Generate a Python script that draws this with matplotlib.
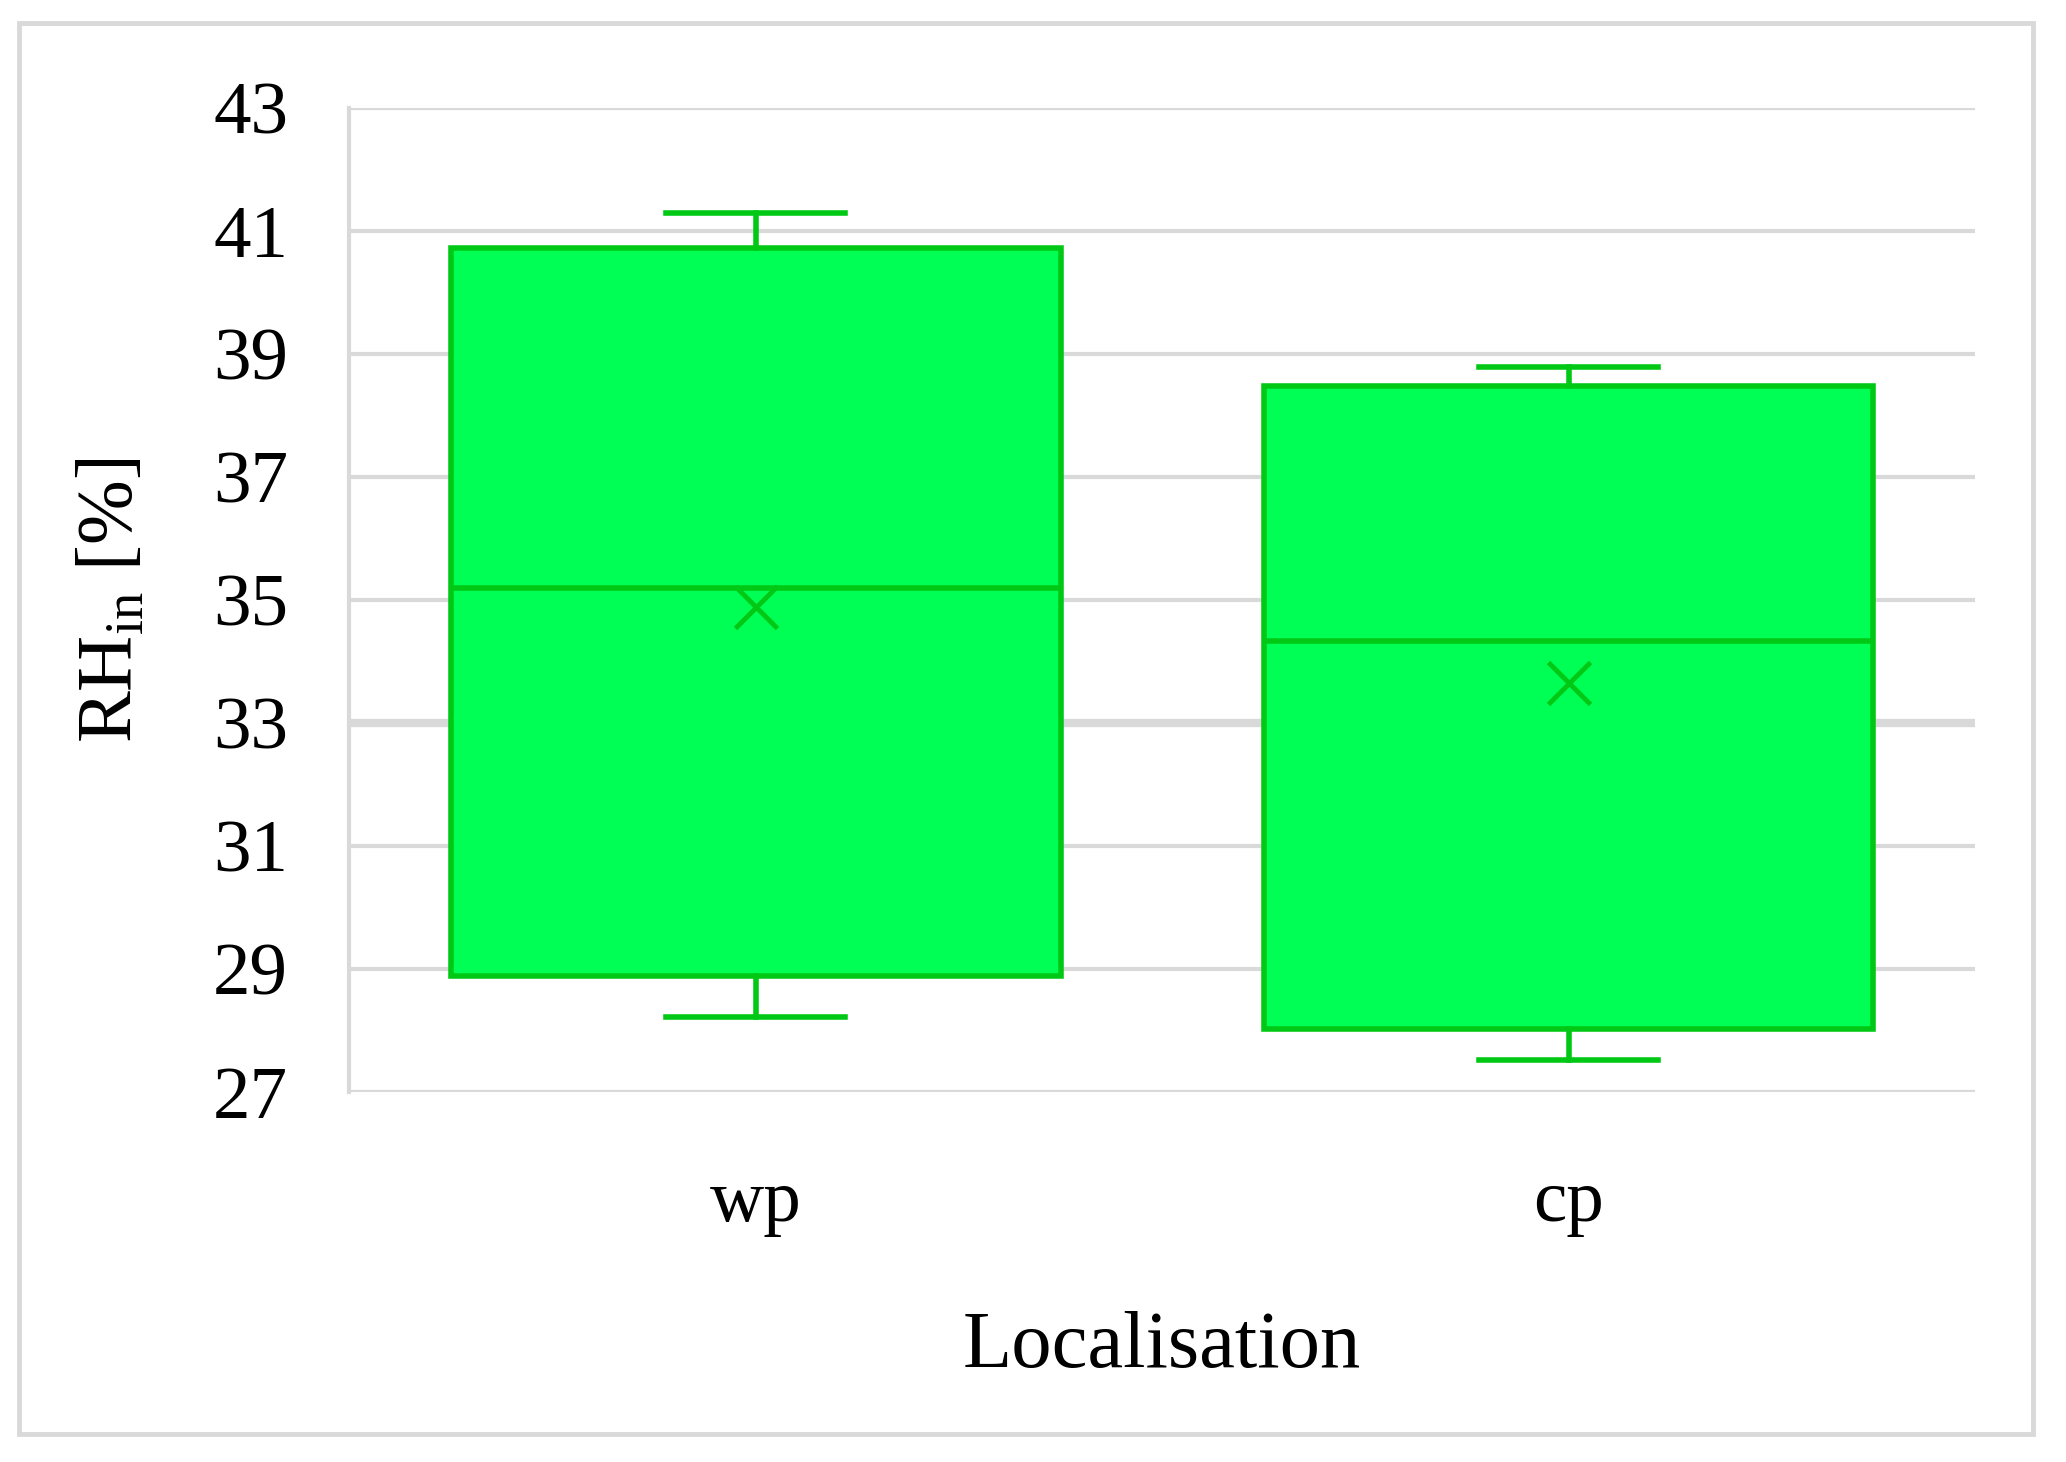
import numpy as np
import matplotlib.pyplot as plt
from matplotlib.patches import Rectangle

FONTSIZE = 54

plt.rcParams.update({
    "font.family": "serif",
    "font.serif": ["Liberation Serif", "DejaVu Serif"],
    "mathtext.fontset": "custom",
    "mathtext.rm": "Liberation Serif",
    "font.size": FONTSIZE,
    "xtick.labelsize": FONTSIZE,
    "ytick.labelsize": FONTSIZE})

# data (box statistics per location)
categories = ["wp", "cp"]
whisker_low = [28.22, 27.53]
q1 = [28.89, 28.03]
median = [35.19, 34.33]
mean = [34.89, 33.65]
q3 = [40.73, 38.49]
whisker_high = [41.30, 38.79]
yticks = [27, 29, 31, 33, 35, 37, 39, 41, 43]

FILL = "#00ff55"
EDGE = "#00c814"
GRID = "#d9d9d9"
LINEWIDTH = 4.0

fig = plt.figure(figsize=(20.66, 14.62), dpi=100)
ax = fig.add_axes([0.169, 0.253, 0.787, 0.673])

# gridlines (the one at 33 is drawn heavier in the original)
for yv in yticks:
    ax.axhline(yv, color=GRID, lw=6 if yv == 33 else 3, zorder=0)

stats = []
for i, name in enumerate(categories):
    stats.append(dict(label=name, whislo=whisker_low[i], q1=q1[i], med=median[i],
                      mean=mean[i], q3=q3[i], whishi=whisker_high[i], fliers=[]))

ax.bxp(stats, positions=[0, 1], widths=0.75, capwidths=0.22, patch_artist=True,
       showmeans=True, showfliers=False,
       boxprops=dict(facecolor=FILL, edgecolor=EDGE, linewidth=LINEWIDTH),
       medianprops=dict(color=EDGE, linewidth=LINEWIDTH),
       whiskerprops=dict(color=EDGE, linewidth=LINEWIDTH),
       capprops=dict(color=EDGE, linewidth=LINEWIDTH),
       meanprops=dict(marker="x", markeredgecolor=EDGE, markersize=30,
                      markeredgewidth=3.5))

ax.set_xlim(-0.5, 1.5)
ax.set_ylim(27, 43)
ax.set_yticks(yticks)
ax.set_xticks([0, 1])
ax.set_xticklabels(categories)
ax.tick_params(axis="both", length=0)
ax.tick_params(axis="y", pad=44)
ax.tick_params(axis="x", pad=56)
for lbl in ax.get_yticklabels():
    lbl.set_va("center_baseline")

for side in ["top", "right", "bottom"]:
    ax.spines[side].set_visible(False)
ax.spines["left"].set_color(GRID)
ax.spines["left"].set_linewidth(3)

ax.set_xlabel("Localisation", fontsize=58)
ax.xaxis.set_label_coords(0.5, -0.26)
ax.xaxis.label.set_va("center")
ax.set_ylabel(r"RH$_\mathregular{in}$ [%]", fontsize=56)
ax.yaxis.set_label_coords(-0.146, 0.5)
ax.yaxis.label.set_va("center")

# outer frame around the whole chart
fig.patches.append(Rectangle((0.0092, 0.019), 0.975, 0.965, transform=fig.transFigure,
                             fill=False, edgecolor=GRID, linewidth=3.5))

fig.savefig("out.png", dpi=100)
